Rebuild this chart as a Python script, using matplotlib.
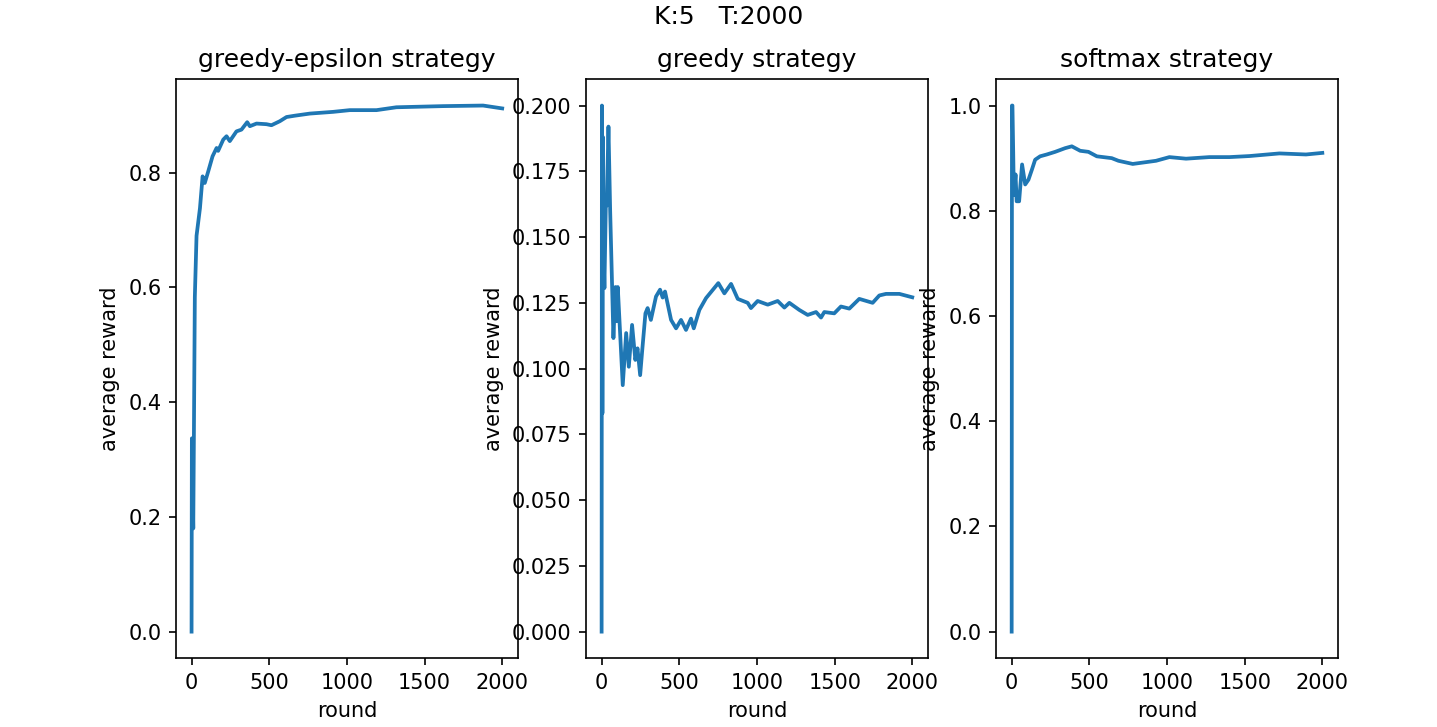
import matplotlib
matplotlib.use("Agg")
import matplotlib.pyplot as plt

# values (round, average reward)
eps_rounds = [0, 2, 3, 11, 21, 32, 54, 71, 85, 107, 135, 161, 171, 204, 225, 246, 289,
              321, 358, 375, 418, 482, 514, 568, 611, 664, 761, 911, 1018, 1190, 1318,
              1618, 1876, 1999]
eps_reward = [0.0, 0.337, 0.30, 0.18, 0.583, 0.69, 0.738, 0.7936, 0.782, 0.802, 0.8285,
              0.843, 0.838, 0.8577, 0.8635, 0.855, 0.872, 0.875, 0.888, 0.881, 0.8856,
              0.8845, 0.8827, 0.8897, 0.897, 0.8993, 0.903, 0.906, 0.909, 0.909, 0.914,
              0.916, 0.917, 0.912]

greedy_rounds = [0, 2, 5, 9, 12, 18, 27, 33, 44, 55, 76, 89, 97, 104, 136, 158, 175, 196,
                 217, 231, 248, 261, 282, 296, 317, 350, 376, 393, 408, 447, 479, 511, 543,
                 575, 593, 629, 672, 751, 790, 833, 876, 940, 961, 1004, 1069, 1133, 1176,
                 1208, 1272, 1326, 1380, 1412, 1433, 1497, 1540, 1594, 1658, 1744, 1787,
                 1830, 1916, 1999]
greedy_reward = [0.0, 0.2, 0.083, 0.188, 0.147, 0.1306, 0.162, 0.162, 0.192, 0.16, 0.1116,
                 0.131, 0.118, 0.131, 0.0937, 0.1135, 0.1007, 0.1166, 0.1033, 0.1077,
                 0.0975, 0.1067, 0.121, 0.123, 0.1185, 0.1274, 0.130, 0.127, 0.1293,
                 0.1185, 0.1153, 0.1185, 0.1147, 0.119, 0.1153, 0.1223, 0.1268, 0.1325,
                 0.1286, 0.1322, 0.1265, 0.125, 0.123, 0.1257, 0.1243, 0.1257, 0.1232,
                 0.125, 0.1223, 0.1204, 0.1215, 0.1194, 0.1215, 0.121, 0.1236, 0.1228,
                 0.1265, 0.125, 0.1278, 0.1284, 0.1284, 0.1271]

soft_rounds = [0, 2, 5, 10, 14, 25, 32, 48, 67, 87, 108, 130, 151, 183, 226, 280, 344, 387,
               441, 494, 548, 644, 687, 779, 929, 1015, 1122, 1272, 1401, 1530, 1723, 1894,
               1999]
soft_reward = [0.0, 1.0, 1.0, 0.91, 0.83, 0.869, 0.818, 0.818, 0.888, 0.85, 0.859, 0.878,
               0.897, 0.9035, 0.907, 0.912, 0.919, 0.9225, 0.914, 0.912, 0.9035, 0.900,
               0.895, 0.889, 0.895, 0.902, 0.899, 0.902, 0.902, 0.904, 0.909, 0.907, 0.910]

titles = ["greedy-epsilon strategy", "greedy strategy", "softmax strategy"]

fig, axes = plt.subplots(1, 3, figsize=(1437 / 150, 727 / 150), dpi=150)
fig.subplots_adjust(left=0.1225, right=0.931, bottom=0.095, top=0.891, wspace=0.2)
fig.suptitle("K:5   T:2000", x=0.507, y=0.993, va="top")

series = [(eps_rounds, eps_reward), (greedy_rounds, greedy_reward), (soft_rounds, soft_reward)]
for ax, (x, y), title in zip(axes, series, titles):
    ax.plot(x, y, lw=1.8)
    ax.set_title(title)
    ax.set_xlabel("round")
    ax.set_ylabel("average reward")
    ax.set_xticks([0, 500, 1000, 1500, 2000])

fig.savefig("out.png", dpi=150)
